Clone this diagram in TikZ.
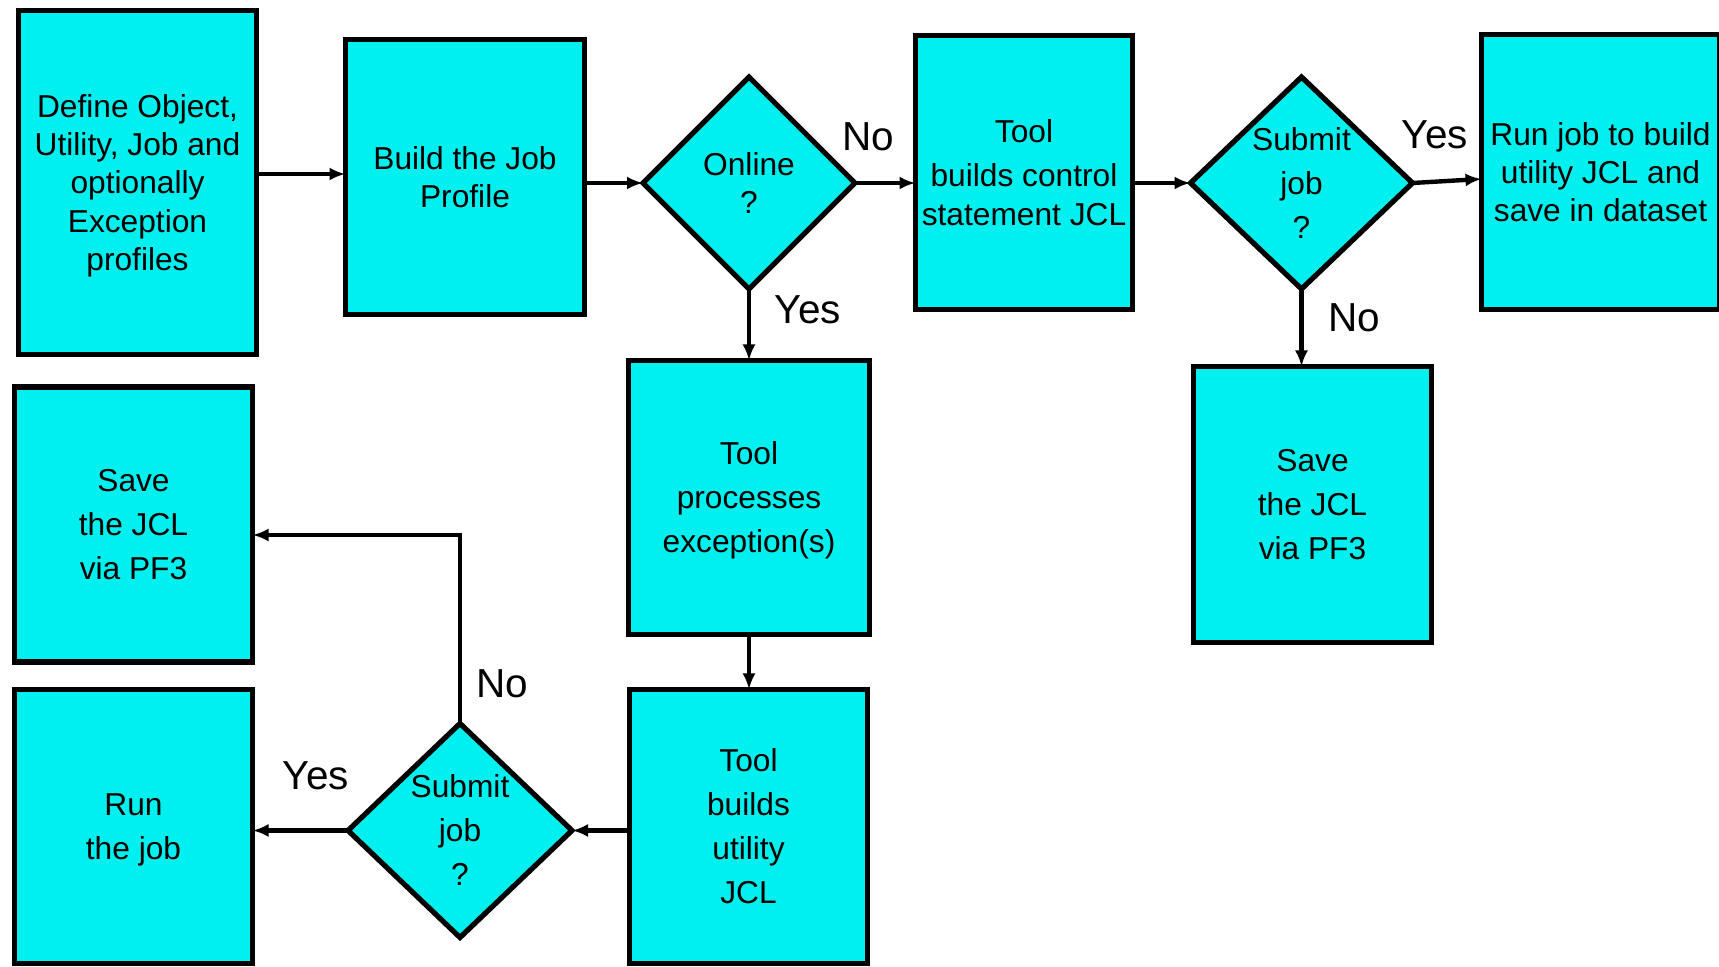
\documentclass[tikz,border=0pt]{standalone}
\usepackage{fontspec}
\setmainfont{Liberation Sans}
\usetikzlibrary{shapes.geometric,arrows.meta}
\definecolor{boxcyan}{RGB}{0,239,239}
\begin{document}
\begin{tikzpicture}[x=0.5pt,y=-0.5pt,
  every node/.style={inner sep=0pt, outer sep=0pt},
  tight/.style={font=\fontsize{15.85pt}{19.2pt}\selectfont},
  loose/.style={font=\fontsize{15.85pt}{22pt}\selectfont},
  stepbox/.style={draw=black, line width=2.6pt, fill=boxcyan, align=center, text depth=0pt},
  decision/.style={stepbox, diamond, aspect=1},
  answer/.style={font=\fontsize{20.25pt}{24pt}\selectfont},
  arr/.style={line width=2.2pt, -{Latex[length=8pt,width=6.5pt]}}
]
\useasboundingbox (0,0) rectangle (1719,967);

% process boxes
\node[stepbox, tight, minimum width=119pt, minimum height=172pt] (define) at (137.5,182.5)
  {Define Object,\\Utility, Job and\\optionally\\Exception\\profiles};
\node[stepbox, tight, minimum width=119.5pt, minimum height=137.5pt] (build) at (465,177)
  {Build the Job\\Profile};
\node[stepbox, tight, minimum width=108.5pt, minimum height=137pt] (ctrl) at (1024,172.5)
  {Tool\\[2.8pt]builds control\\statement JCL};
\node[stepbox, tight, minimum width=119pt, minimum height=137.5pt] (runbuild) at (1600.5,172)
  {Run job to build\\utility JCL and\\save in dataset};
\node[stepbox, loose, minimum width=119pt, minimum height=138pt] (saveR) at (1312.5,504.5)
  {Save\\the JCL\\via PF3};
\node[stepbox, loose, minimum width=120.5pt, minimum height=137pt] (except) at (749,497.5)
  {Tool\\processes\\exception(s)};
\node[stepbox, loose, minimum width=119pt, minimum height=137pt] (utiljcl) at (748.5,826.5)
  {Tool\\builds\\utility\\JCL};
\node[stepbox, loose, minimum width=119pt, minimum height=137pt] (runjob) at (133.5,826.5)
  {Run\\the job};
\node[stepbox, loose, minimum width=119pt, minimum height=137.5pt] (saveL) at (133.5,524.5)
  {Save\\the JCL\\via PF3};

% decisions
\node[decision, tight, minimum width=106pt, minimum height=106pt] (online) at (749,183)
  {Online\\?};
\node[decision, loose, minimum width=111pt, minimum height=106pt] (submitA) at (1301.5,183)
  {Submit\\job\\?};
\node[decision, loose, minimum width=112pt, minimum height=107pt] (submitB) at (460,830.5)
  {Submit\\job\\?};

% connectors
\draw[arr] ([yshift=4.25pt]define.east) -- ([yshift=4.25pt]define.east -| build.west);
\draw[arr] (online.west -| build.east) -- (online.west);
\draw[arr] (online.east) -- (online.east -| ctrl.west);
\draw[arr] (online.south) -- (online.south |- except.north);
\draw[arr] (submitA.west -| ctrl.east) -- (submitA.west);
\draw[arr] (submitA.east) -- ([yshift=2pt]submitA.east -| runbuild.west);
\draw[arr] (submitA.south) -- (submitA.south |- saveR.north);
\draw[arr] (except.south) -- (except.south |- utiljcl.north);
\draw[arr] (submitB.east -| utiljcl.west) -- (submitB.east);
\draw[arr] (submitB.west) -- (submitB.west -| runjob.east);
\draw[arr] (submitB.north) |- ([yshift=-5.25pt]saveL.east);

% branch labels
\node[answer] (lNo1) at (868,137) {No};
\node[answer] (lYes1) at (808,310) {Yes};
\node[answer] (lYes2) at (1435,135) {Yes};
\node[answer] (lNo2) at (1354,318) {No};
\node[answer] (lNo3) at (502,684) {No};
\node[answer] (lYes3) at (316,776) {Yes};
\end{tikzpicture}
\end{document}
